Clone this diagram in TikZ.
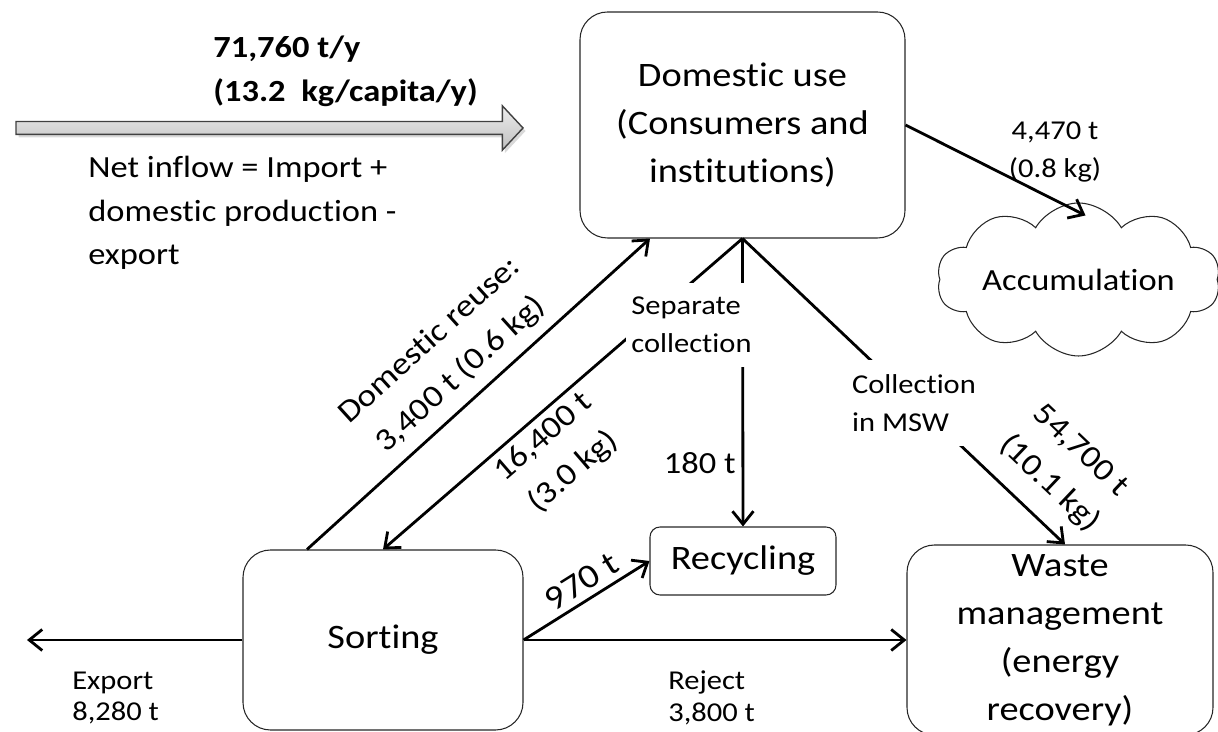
\documentclass[tikz,border=0pt]{standalone}
\usepackage{fontspec}
\setmainfont{Carlito}[FakeStretch=1.12, Ligatures={NoCommon, NoContextual}]
\usepackage{tikz}
\usetikzlibrary{arrows.meta,shapes.symbols,shapes.arrows,shadows}

\newcommand{\stagefont}{\fontsize{19.5}{27.3}\selectfont}
\newcommand{\notefont}{\fontsize{17.5}{24.7}\selectfont}
\newcommand{\tagfont}{\fontsize{15.5}{21.6}\selectfont}
\newcommand{\slopefont}{\fontsize{18}{26}\selectfont}
\newcommand{\tightfont}{\fontsize{15.5}{18}\selectfont}

\begin{document}
\begin{tikzpicture}[
    stage/.style={rectangle, draw=black!85, line width=0.6pt, rounded corners=0.55cm, align=center, font=\stagefont, inner sep=0pt},
    inflow/.style={single arrow, draw=black!75, line width=0.8pt, top color=gray!15, bottom color=gray!50, minimum height=10.14cm, minimum width=0.86cm, text height=0.23cm, inner sep=0pt, single arrow head extend=0.315cm, single arrow tip angle=94, drop shadow={shadow xshift=0.05cm, shadow yshift=-0.06cm, opacity=0.3}},
    store/.style={cloud, cloud puffs=10, cloud puff arc=120, cloud ignores aspect, draw=black!85, line width=0.6pt, minimum width=5.5cm, minimum height=3.06cm, font=\notefont},
    flow/.style={-{Straight Barb[length=2.6mm, width=4.2mm]}, line width=1.6pt},
    note/.style={align=left, anchor=west, inner xsep=0pt},
    tag/.style={font=\tagfont, align=left},
    gap/.style={tag, fill=white, inner xsep=0.1cm, inner ysep=0.28cm},
    slope/.style={font=\slopefont, align=center, sloped}
]
    \useasboundingbox (0, 0) rectangle (24.36, 14.64);

    % Stages
    \node[stage, minimum width=6.5cm, minimum height=4.52cm] (dom) at (14.85, 12.14) {Domestic use\\(Consumers and\\institutions)};
    \node[stage, minimum width=5.6cm, minimum height=3.6cm] (sort) at (7.66, 1.84) {Sorting};
    \node[stage, rounded corners=0.2cm, minimum width=3.72cm, minimum height=1.36cm] (recyc) at (14.86, 3.42) {Recycling};
    \node[stage, minimum width=6.12cm, minimum height=3.8cm] (waste) at (21.2, 1.84) {Waste\\management\\(energy\\recovery)};
    \node[store] (accum) at (21.57, 9.05) {Accumulation};

    % Net inflow
    \node[inflow] (inflow) at (5.33, 12.08) {};
    \node[note, font=\notefont\bfseries] (amount) at (4.26, 13.21) {71,760 t/y\\(13.2\ \ kg/capita/y)};
    \node[note, font=\notefont] (netdef) at (1.76, 10.38) {Net inflow = Import +\\domestic production -\\export};

    % Flows
    \draw[flow] (dom.east) -- ([xshift=0.14cm, yshift=-0.26cm]accum.north);
    \draw[flow] ([xshift=-1.52cm]sort.north) -- node[slope, above=3pt, pos=0.5] {Domestic reuse:\\3,400 t (0.6 kg)} ([xshift=-1.85cm]dom.south);
    \draw[flow] (dom.south) -- node[slope, below, pos=0.59] {16,400 t\\(3.0 kg)} (sort.north);
    \draw[flow] (dom.south) -- node[font=\notefont, pos=0.78, left] {180 t} (recyc.north);
    \draw[flow] (dom.south) -- node[slope, above=7pt, pos=0.88] {54,700 t\\(10.1 kg)} ([xshift=0.1cm]waste.north);
    \draw[flow] (sort.east) -- node[slope, font=\stagefont, above, pos=0.54] {970 t} (recyc.west);
    \draw[flow] (sort.east) -- (waste.west);
    \coordinate (exportend) at (0.54, 1.84);
    \draw[flow] (sort.west) -- (exportend);

    % Labels
    \node[gap] (sepcoll) at (13.83, 8.14) {Separate\\collection};
    \node[gap] (msw) at (18.28, 6.58) {Collection\\in MSW};
    \node[tag, align=center] (accumlbl) at (21.1, 11.6) {4,470 t\\(0.8 kg)};
    \node[note, font=\tightfont] (exportlbl) at (1.44, 0.68) {Export\\8,280 t};
    \node[note, font=\tightfont] (rejectlbl) at (13.36, 0.68) {Reject\\3,800 t};
\end{tikzpicture}
\end{document}
